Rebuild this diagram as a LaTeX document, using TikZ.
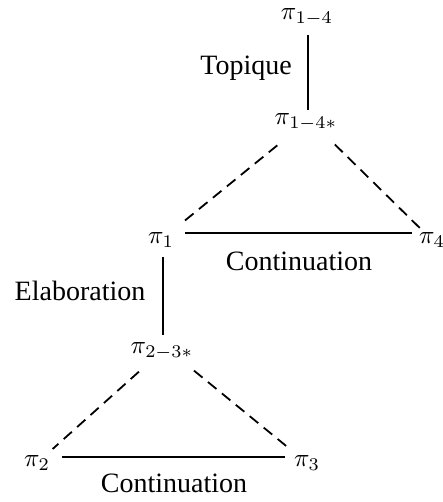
\documentclass[tikz,border=0pt]{standalone}
\usepackage[no-math]{fontspec}
\setmainfont{Liberation Serif}
\begin{document}
\begin{tikzpicture}[x=1pt,y=-1pt,
  seg/.style={scale=2.55, inner sep=0pt},
  lab/.style={node font=\fontsize{28}{32}\selectfont, inner sep=0pt},
  rel/.style={line width=1.8pt},
  sub/.style={line width=1.8pt, dash pattern=on 11pt off 7pt}]
\useasboundingbox (0,0) rectangle (442,502);
\node[seg] (p14) at (307,17) {$\pi_{1-4}$};
\node[seg] (p14s) at (306,122) {$\pi_{1-4*}$};
\node[seg] (p1) at (161,240) {$\pi_1$};
\node[seg] (p4) at (432,240) {$\pi_4$};
\node[seg] (p23s) at (162,351) {$\pi_{2-3*}$};
\node[seg] (p2) at (37,463) {$\pi_2$};
\node[seg] (p3) at (307,463) {$\pi_3$};
\node[lab] (top) at (246,68) {Topique};
\node[lab] (ela) at (80,291) {Elaboration};
\node[lab] (cont1) at (299,261) {Continuation};
\node[lab] (cont2) at (174,483) {Continuation};
\draw[rel, shorten <=18pt, shorten >=12pt] ([xshift=1pt]p14.center) -- ([xshift=2pt]p14s.center);
\draw[sub, shorten <=37pt, shorten >=25pt] (p14s.center) -- (p1.center);
\draw[sub, shorten <=32pt, shorten >=13pt] ([xshift=6pt]p14s.center) -- (p4.center);
\draw[rel, shorten <=24pt, shorten >=20pt] ([yshift=7pt]p1.center) -- ([yshift=7pt]p4.center);
\draw[rel, shorten <=17pt, shorten >=16pt] ([xshift=2pt]p1.center) -- ([xshift=1pt]p23s.center);
\draw[sub, shorten <=31pt, shorten >=21pt] (p23s.center) -- (p2.center);
\draw[sub, shorten <=31pt, shorten >=21pt] ([xshift=8pt]p23s.center) -- (p3.center);
\draw[rel, shorten <=25pt, shorten >=22pt] ([yshift=6pt]p2.center) -- ([yshift=6pt]p3.center);
\end{tikzpicture}
\end{document}
